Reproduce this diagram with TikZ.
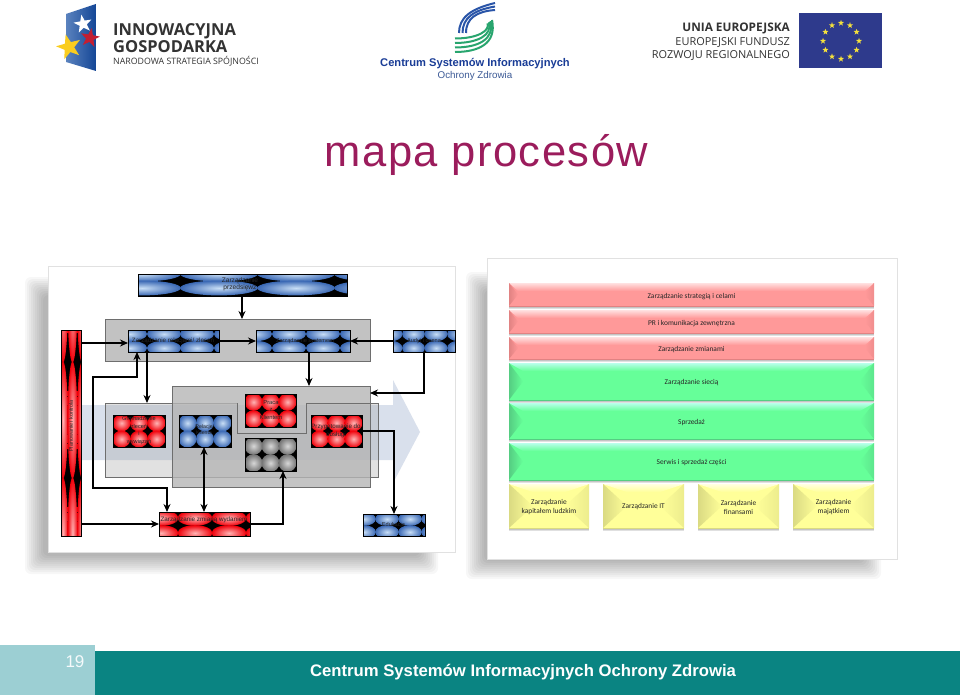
\documentclass[tikz,border=0pt]{standalone}
\usepackage{fontspec}
\setmainfont{Liberation Sans}
\newfontfamily\cali{Carlito}
\newfontfamily\opens{Open Sans}
\usetikzlibrary{arrows.meta,fit,calc}
\definecolor{titlec}{HTML}{9B1C5C}
\definecolor{teal1}{HTML}{0A8482}
\definecolor{teal2}{HTML}{9CCFD3}
\definecolor{arrowbg}{HTML}{D9E0EC}
\definecolor{blueIn}{HTML}{C8DEF6}
\definecolor{blueOut}{HTML}{3A68B4}
\definecolor{redIn}{HTML}{FFB4B4}
\definecolor{redOut}{HTML}{F0000A}
\definecolor{grayIn}{HTML}{D7D7D7}
\definecolor{grayOut}{HTML}{737373}
\definecolor{panelLine}{HTML}{6E6E6E}
\definecolor{panelFill}{HTML}{C2C2C2}
\definecolor{panelMid}{HTML}{B6B6B6}
\definecolor{sheetLine}{HTML}{E1E1E1}
\definecolor{lowerFill}{HTML}{9E9E9E}
\definecolor{flagBlue}{HTML}{144696}
\definecolor{flagLight}{HTML}{5A82BE}
\definecolor{starRed}{HTML}{C31E32}
\definecolor{starYel}{HTML}{FACD1E}
\definecolor{swirlB}{HTML}{2A55A8}
\definecolor{swirlG}{HTML}{28A56E}
\definecolor{csioz}{HTML}{193C96}
\definecolor{csioz2}{HTML}{3C5A96}
\definecolor{euBlue}{HTML}{2E3A8C}
\definecolor{euStar}{HTML}{F5E13C}
\definecolor{rBase}{HTML}{FF9999}\definecolor{rTop}{HTML}{FFE1E1}\definecolor{rSide}{HTML}{E18282}
\definecolor{gBase}{HTML}{66FF99}\definecolor{gTop}{HTML}{B9FFEB}\definecolor{gSide}{HTML}{55CD82}
\definecolor{yBase}{HTML}{FFFF99}\definecolor{yTop}{HTML}{FFFFE1}\definecolor{ySide}{HTML}{DADA82}
\tikzset{
  blueT/.style={inner color=blueIn,outer color=blueOut},
  redT/.style={inner color=redIn,outer color=redOut},
  grayT/.style={inner color=grayIn,outer color=grayOut},
  tileframe/.style={draw=black,line width=1pt,inner sep=0pt,outer sep=0pt},
  panel/.style={draw=panelLine,line width=.7pt,fill=panelFill,inner sep=0pt,outer sep=0pt},
  sheet/.style={draw=sheetLine,line width=.8pt,fill=white,inner sep=0pt,outer sep=0pt},
  lbl/.style={font=\fontsize{5.8}{7}\selectfont,text=black!85,align=center,inner sep=0pt},
  bar/.style={font=\cali\fontsize{7.4}{9}\selectfont,text=black!85,align=center,inner sep=0pt},
  conn/.style={line width=1.5pt,black,-{Stealth[length=8pt,width=7pt]}},
  conn2/.style={line width=1.5pt,black,{Stealth[length=8pt,width=7pt]}-{Stealth[length=8pt,width=7pt]}},
  logotext/.style={inner sep=0pt,text=black!80},
}
\newcommand{\tilebox}[8]{%
  \begin{scope}
    \clip (#2) rectangle (#3);
    \fill[black] (#2) rectangle (#3);
    \foreach \tx in {#4}{\foreach \ty in {#5}{\shade[#8] (\tx,\ty) ellipse [x radius=#6,y radius=#7];}}
  \end{scope}
  \node[tileframe,fit={(#2)(#3)}] (#1) {};
}
\newcommand{\softshadow}[4]{%
  \foreach \k in {0,...,9}{\fill[black,opacity=.03,rounded corners=6pt] ({#1+\k*2},{#2+\k*2}) rectangle ({#3-\k*2},{#4-\k*2});}
}
% x, y, radius, rotation, colour
\newcommand{\mystar}[5]{%
  \fill[#5] ($(#1,#2)+({#4-90}:#3)$)
    -- ($(#1,#2)+({#4-54}:{.4*#3})$) -- ($(#1,#2)+({#4-18}:#3)$)
    -- ($(#1,#2)+({#4+18}:{.4*#3})$) -- ($(#1,#2)+({#4+54}:#3)$)
    -- ($(#1,#2)+({#4+90}:{.4*#3})$) -- ($(#1,#2)+({#4+126}:#3)$)
    -- ($(#1,#2)+({#4+162}:{.4*#3})$) -- ($(#1,#2)+({#4+198}:#3)$)
    -- ($(#1,#2)+({#4+234}:{.4*#3})$) -- cycle;
}
% name, x1,y1,x2,y2, base, top, side, bevel w
\newcommand{\bevel}[9]{%
  \foreach \k in {0,...,3}{\fill[black,opacity=.12] ({#2+\k*.4},{#3+2}) rectangle ({#4-\k*.4},{#5+2.6-\k*.7});}
  \fill[#6] (#2,#3) rectangle (#4,#5);
  \shade[top color=#7,bottom color=#6] (#2,#3) -- (#4,#3) -- ({#4-#9},{#3+8}) -- ({#2+#9},{#3+8}) -- cycle;
  \shade[left color=#8,right color=#6] (#2,#3) -- ({#2+#9},{(#3+#5)/2}) -- (#2,#5) -- cycle;
  \shade[right color=#8!50!#6,left color=#6] (#4,#3) -- ({#4-#9},{(#3+#5)/2}) -- (#4,#5) -- cycle;
  \draw[#8,line width=.6pt] (#2,#5) -- (#4,#5);
  \coordinate (#1a) at (#2,#3); \coordinate (#1b) at (#4,#5);
  \node[inner sep=0pt,outer sep=0pt,fit={(#1a)(#1b)}] (#1) {};
}
\begin{document}
\begin{tikzpicture}[x=1pt,y=-1pt]
\useasboundingbox (0,0) rectangle (960,695);
\fill[white] (0,0) rectangle (960,695);

% ---------- logos ----------
\shade[left color=flagLight,right color=flagBlue] (66,14) -- (96,4) -- (96,71) -- (66,62) -- cycle;
\mystar{83}{24}{9.5}{-10}{white}
\mystar{90}{38}{10}{10}{starRed}
\mystar{69}{47}{13}{-15}{starYel}
\node[logotext,anchor=base west,font=\opens\bfseries\fontsize{16.5}{18}\selectfont] (lg1) at (113,36) {INNOWACYJNA};
\node[logotext,anchor=base west,font=\opens\bfseries\fontsize{16.5}{18}\selectfont] (lg2) at (113,52.5) {GOSPODARKA};
\node[logotext,anchor=base west,font=\opens\fontsize{8.8}{10}\selectfont] (lg3) at (113,65) {NARODOWA STRATEGIA SPÓJNOŚCI};

\foreach \d in {0,3.5,7}{
  \draw[line width=2pt,swirlB] ({459+\d},33) .. controls ({459+\d},18) and ({470+\d},{9+\d/3}) .. ({495},{3+\d});
}
\foreach \d in {0,4.5,9,13.5}{
  \draw[line width=2pt,swirlG] (455,{52-\d}) .. controls ({478},{52-\d}) and ({497-\d/2},{44-\d}) .. ({492-\d/3},{20+\d/4});
}
\node[inner sep=0pt,anchor=base,font=\bfseries\fontsize{11.15}{14}\selectfont,text=csioz] (lc1) at (475,67) {Centrum Systemów Informacyjnych};
\node[inner sep=0pt,anchor=base,font=\fontsize{9.8}{11}\selectfont,text=csioz2] (lc2) at (475,79) {Ochrony Zdrowia};

\node[logotext,anchor=base east,font=\opens\bfseries\fontsize{11.8}{13}\selectfont] (lu1) at (790,32) {UNIA EUROPEJSKA};
\node[logotext,anchor=base east,font=\opens\fontsize{10.95}{13}\selectfont] (lu2) at (790,46) {EUROPEJSKI FUNDUSZ};
\node[logotext,anchor=base east,font=\opens\fontsize{10.95}{13}\selectfont] (lu3) at (790,59) {ROZWOJU REGIONALNEGO};
\node[inner sep=0pt,outer sep=0pt,fill=euBlue,minimum width=83pt,minimum height=55pt] (euflag) at (840.5,41) {};
\foreach \a in {0,30,...,330}{
  \begin{scope}[shift={($(841,41)+(\a:18)$)}]\mystar{0}{0}{3.2}{0}{euStar}\end{scope}
}

% ---------- title ----------
\node[inner sep=0pt,anchor=base,font=\fontsize{43.5}{50}\selectfont\addfontfeature{LetterSpace=3.5},text=titlec] (title) at (486.5,167) {mapa procesów};

% ---------- left sheet ----------
\softshadow{25}{277}{438}{574}
\node[sheet,fit={(48.5,266)(455,552)}] (sheetL) {};
\fill[arrowbg] (80,405) -- (393,405) -- (393,380) -- (420,432) -- (393,483) -- (393,460) -- (80,460) -- cycle;
\fill[lowerFill,opacity=.3] (105,403) -- (237,403) -- (237,433) -- (306,433) -- (306,403) -- (378,403) -- (378,477) -- (105,477) -- cycle;
\draw[panelLine,line width=.7pt] (105,403) -- (237,403) -- (237,433) -- (306,433) -- (306,403) -- (378,403) -- (378,477) -- (105,477) -- cycle;
\node[panel,fit={(105,319)(370,361)}] (ptop) {};
\node[panel,fill=panelMid,fill opacity=.8,fit={(172,386)(370,487)}] (pmid) {};
\draw[panelLine,line width=.7pt] (237,403) -- (237,433) -- (306,433) -- (306,403) -- (378,403) -- (378,477) -- (370,477);

% tile boxes
\tilebox{top}{138,274}{347,296}{65,142,219,296,373}{274,288}{38.8}{7.4}{blueT}
\tilebox{b1}{128,330}{219,352}{130,164,197,231}{334,348}{17}{7.2}{blueT}
\tilebox{b2}{256,330}{350,352}{255,289,323,357}{334,348}{17}{7.2}{blueT}
\tilebox{b3}{393,330}{455,352}{391,413.5,436,458.5}{334,348}{11.4}{7.2}{blueT}
\tilebox{bar1}{61,330}{81,536}{63,72.5,82}{304,420,536}{4.9}{58.5}{redT}
\tilebox{ra}{113,415}{165,447}{121.5,139,156.5}{423,439}{9}{8.4}{redT}
\tilebox{bb}{179,415}{231,447}{187.5,205,222.5}{423,439}{9}{8.4}{blueT}
\tilebox{rc}{245,394}{296,427}{253.5,270.5,287.5}{402,419}{9}{8.8}{redT}
\tilebox{gd}{245,438}{296,471}{253.5,270.5,287.5}{446,463}{9}{8.8}{grayT}
\tilebox{re}{311,415}{362,447}{319.5,336.5,353.5}{423,439}{9}{8.4}{redT}
\tilebox{rf}{159,512}{250,536}{161,195,229,263}{518,533}{17.4}{7.8}{redT}
\tilebox{bg}{363,514}{425,536}{364,387,410,433}{519,532}{11.8}{6.8}{blueT}

% tile labels
\node[lbl,font=\fontsize{6.6}{7}\selectfont] (tTop) at (240,284.5) {Zarządzanie\\przedsięwz};
\node[lbl,font=\fontsize{6.2}{7}\selectfont] (tB1) at (173,341) {Zarządzanie relacjami/ zleceń};
\node[lbl,font=\fontsize{5.6}{7}\selectfont] (tB2) at (305,341) {Zarządzanie systemem};
\node[lbl,font=\fontsize{5.6}{7}\selectfont] (tB3) at (424,341) {Audyt i ocena};
\node[lbl,rotate=90,font=\fontsize{5.4}{7}\selectfont] (tBar) at (71,426) {Planowanie i kontrola};
\node[lbl,font=\fontsize{5.6}{7.4}\selectfont] (tRa) at (139,430.5) {Gromadzenie\\zleceń\\i\\wywiązań};
\node[lbl,font=\fontsize{5.2}{6}\selectfont] (tBb) at (204,430) {Relacje\\Klienta};
\node[lbl,font=\fontsize{5.8}{7.6}\selectfont] (tRc) at (271,410) {Praca\\z\\Klientem};
\node[lbl,font=\fontsize{6.2}{8}\selectfont] (tRe) at (336,431) {Przygotowanie do\\obsługi};
\node[lbl,font=\fontsize{6.3}{7}\selectfont] (tRf) at (204,520) {Zarządzanie zmianą wydaniem};
\node[lbl,font=\fontsize{5.6}{7}\selectfont] (tBg) at (393.5,525) {Edukacja};

% connectors
\draw[conn] (top.south -| 242,0) -- (ptop.north -| 242,0);
\draw[conn] (bar1.east |- 0,343) -- (b1.west |- 0,343);
\draw[conn] (b1.east) -- (b2.west);
\draw[conn] (b3.west) -- (b2.east);
\draw[conn] (b2.south -| 309,0) -- (pmid.north -| 309,0);
\draw[conn] (b3.south -| 424,0) |- (pmid.east |- 0,393);
\draw[conn] (b1.south -| 147,0) -- (147,403);
\draw[conn2] (b1.south -| 137,0) |- (93,377) |- (167,488) -- (rf.north -| 167,0);
\draw[conn2] (bb.south -| 204,0) -- (rf.north -| 204,0);
\draw[conn] (bar1.east |- rf.west) -- (rf.west);
\draw[conn] (rf.east) -| (gd.south -| 283,0);
\draw[conn] (re.east) -| (bg.north -| 394,0);

% ---------- right sheet ----------
\softshadow{466}{272}{881}{579}
\node[sheet,fit={(487,258)(897,559)}] (sheetR) {};
\bevel{r1}{509}{283}{874}{306}{rBase}{rTop}{rSide}{9}
\bevel{r2}{509}{310}{874}{333}{rBase}{rTop}{rSide}{9}
\bevel{r3}{509}{337}{874}{359}{rBase}{rTop}{rSide}{9}
\bevel{g1}{509}{363}{874}{400}{gBase}{gTop}{gSide}{14}
\bevel{g2}{509}{403}{874}{439}{gBase}{gTop}{gSide}{14}
\bevel{g3}{509}{443}{874}{480}{gBase}{gTop}{gSide}{14}
\bevel{y1}{509}{484}{589}{528}{yBase}{yTop}{ySide}{24}
\bevel{y2}{603}{484}{684}{528}{yBase}{yTop}{ySide}{24}
\bevel{y3}{698}{484}{779}{528}{yBase}{yTop}{ySide}{24}
\bevel{y4}{793}{484}{874}{528}{yBase}{yTop}{ySide}{24}
\node[bar] (tr1) at ($(r1)+(0,2)$) {Zarządzanie strategią i celami};
\node[bar] (tr2) at ($(r2)+(0,2)$) {PR i komunikacja zewnętrzna};
\node[bar] (tr3) at ($(r3)+(0,2)$) {Zarządzanie zmianami};
\node[bar] (tg1) at ($(g1)+(0,1.5)$) {Zarządzanie siecią};
\node[bar] (tg2) at ($(g2)+(0,2)$) {Sprzedaż};
\node[bar] (tg3) at ($(g3)+(0,1.5)$) {Serwis i sprzedaż części};
\node[bar] (ty1) at ($(y1)+(0,1)$) {Zarządzanie\\kapitałem ludzkim};
\node[bar] (ty2) at ($(y2)+(0,1)$) {Zarządzanie IT};
\node[bar] (ty3) at ($(y3)+(0,1)$) {Zarządzanie\\finansami};
\node[bar] (ty4) at ($(y4)+(0,1)$) {Zarządzanie\\majątkiem};

% ---------- footer ----------
\fill[teal2] (0,645) rectangle (95,695);
\fill[teal1] (95,651) rectangle (960,695);
\node[inner sep=0pt,anchor=base,font=\fontsize{17}{18}\selectfont,text=white!90!teal2] (pageno) at (75,667.5) {19};
\node[inner sep=0pt,anchor=base,font=\bfseries\fontsize{16.7}{20}\selectfont,text=white] (foot) at (523,676) {Centrum Systemów Informacyjnych Ochrony Zdrowia};
\end{tikzpicture}
\end{document}
